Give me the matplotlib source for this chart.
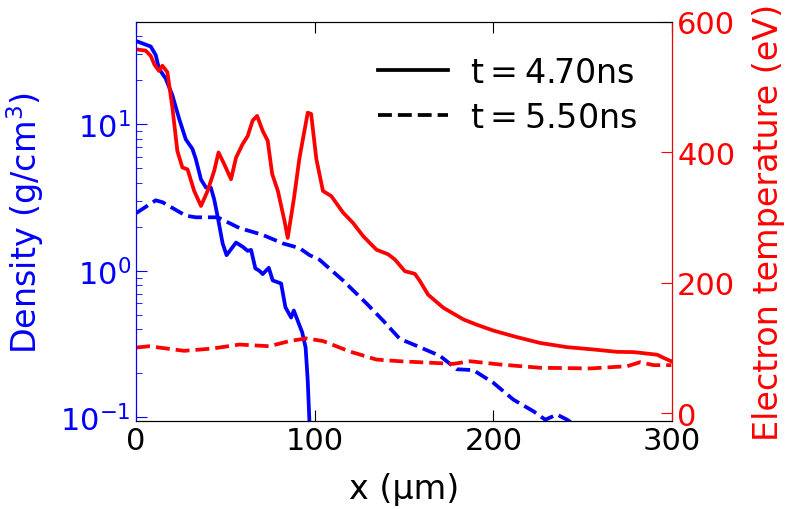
import numpy as np
import matplotlib
matplotlib.use("Agg")
import matplotlib.pyplot as plt

# density at t = 4.70 ns (g/cm^3)
x_rho1 = [0.3, 8.4, 11.2, 13, 16.8, 20.5, 24.3, 28, 31.7, 33.6, 36.5, 39.3, 42, 43.9,
          45.8, 48.6, 50.8, 56.1, 59.8, 62.6, 64.5, 66.9, 69.2, 71, 74.4, 76.6, 81.3,
          83.7, 86.9, 88.4, 93.1, 95, 96.2, 97.2, 97.8]
rho1 = [37, 34, 29.7, 24, 20.5, 15.8, 10.9, 7.9, 6.8, 5.8, 4.2, 3.7, 3.7, 3.07,
        2.35, 1.54, 1.28, 1.56, 1.46, 1.37, 1.39, 1.04, 1.0, 0.95, 1.05, 0.86, 0.82,
        0.565, 0.48, 0.536, 0.38, 0.30, 0.177, 0.09, 0.05]

# density at t = 5.50 ns
x_rho2 = [0.3, 11.2, 15, 28, 33.6, 45.8, 58, 71, 82.2, 91.6, 97.2, 102.8, 115.9, 129,
          138.3, 147.7, 157, 170.1, 179.5, 188.8, 200, 211.2, 222.4, 229, 235.5, 241.2,
          245.8]
rho2 = [2.48, 3.03, 2.94, 2.38, 2.32, 2.32, 1.96, 1.76, 1.54, 1.43, 1.28, 1.19, 0.86, 0.60,
        0.458, 0.343, 0.308, 0.263, 0.213, 0.21, 0.172, 0.132, 0.11, 0.0964, 0.1045, 0.0964,
        0.088]

# electron temperature at t = 4.70 ns (eV)
x_te1 = [0.3, 5.6, 8.4, 10.4, 13, 14.9, 17.7, 20.5, 23.3, 26.1, 29, 32.7, 36.5, 40.2,
         43.9, 46.3, 49.5, 53.3, 56.1, 59.8, 62.6, 65.4, 67.9, 71, 73.8, 76.3, 79.5,
         83.2, 85, 88.5, 91.6, 96.2, 98.1, 101, 104.7, 109.4, 115.9, 121.5, 127.1, 134.6,
         141.1, 144.9, 150.5, 156.1, 158.9, 163.5, 172, 183.3, 190.7, 200, 213.1, 226.2,
         241.2, 256.1, 269.2, 278.5, 291.6, 295.3, 299.5]
te1 = [558, 556, 548, 535, 525, 533, 523, 469, 402, 377, 374, 341, 318, 341,
       372, 400, 382, 359, 392, 413, 425, 449, 456, 433, 418, 367, 341,
       295, 269, 330, 392, 461, 459, 390, 341, 333, 308, 292, 272, 251,
       244, 236, 218, 214, 203, 182, 162, 144, 136, 127, 117, 108,
       101.6, 98, 94.4, 94, 90, 85, 80]

# electron temperature at t = 5.50 ns
x_te2 = [0.3, 7.5, 27.1, 43, 58, 74.8, 86, 95.4, 104.7, 119.6, 134.6, 147.7, 166.4,
         177.6, 187, 203.8, 226.2, 254.3, 274.8, 282.1, 289.6, 299.5]
te2 = [101, 103, 96, 99.5, 105.6, 103, 111, 115, 111, 95, 82.6, 80, 77.5,
       76, 80, 75, 70, 69, 72.4, 78.6, 74, 74]

labels = [r'$\mathrm{t = 4.70ns}$', r'$\mathrm{t = 5.50ns}$']

plt.rcParams['font.size'] = 22
plt.rcParams['xtick.direction'] = 'in'
plt.rcParams['ytick.direction'] = 'in'
lw = 2.7

fig, ax = plt.subplots(figsize=(7.89, 5.10), dpi=100)
fig.subplots_adjust(left=0.172, right=0.852, bottom=0.172, top=0.955)

ax.semilogy(x_rho1, rho1, 'b-', lw=lw)
ax.semilogy(x_rho2, rho2, 'b--', lw=lw)
ax.set_xlim(0, 300)
ax.set_ylim(0.094, 50)
ax.set_xlabel('x (µm)', fontsize=24, labelpad=12)
ax.set_ylabel(r'Density (g/cm$^3$)', color='b', fontsize=24, labelpad=10)
ax.tick_params(axis='y', colors='b', which='both')
ax.tick_params(axis='x', top=True, length=8)
ax.tick_params(axis='y', which='major', length=8)
ax.tick_params(axis='y', which='minor', length=4)
ax.spines['left'].set_color('b')

ax2 = ax.twinx()
ax2.plot(x_te1, te1, 'r-', lw=lw)
ax2.plot(x_te2, te2, 'r--', lw=lw)
ax2.set_ylim(-12, 600)
ax2.set_yticks([0, 200, 400, 600])
ax2.set_ylabel('Electron temperature (eV)', color='r', fontsize=24, labelpad=12)
ax2.tick_params(axis='y', colors='r', length=8)
ax2.spines['right'].set_color('r')
ax2.spines['left'].set_color('b')

h1, = ax.plot([], [], 'k-', lw=lw)
h2, = ax.plot([], [], 'k--', lw=lw)
ax2.legend([h1, h2], labels, loc='upper right', frameon=False, fontsize=24,
           handlelength=2.1, handletextpad=0.65, labelspacing=0.35,
           bbox_to_anchor=(0.99, 0.99))

fig.savefig('out.png', dpi=100)
